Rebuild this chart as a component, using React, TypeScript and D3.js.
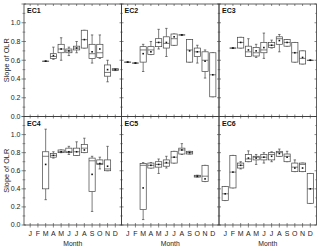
import React from 'react';
import * as d3 from 'd3';

const MONTHS = ['J', 'F', 'M', 'A', 'M', 'J', 'J', 'A', 'S', 'O', 'N', 'D'];
const PANELS = ['EC1', 'EC2', 'EC3', 'EC4', 'EC5', 'EC6'];
const Y_TICKS = [0, 0.2, 0.4, 0.6, 0.8, 1.0];
const Y_MINOR = [0.1, 0.3, 0.5, 0.7, 0.9, 1.1];

// [low whisker, q1, median, q3, high whisker, mean] per month (null = no data)
type S = [number, number, number, number, number, number] | null;
const EC1: S[] = [null, null,
  [0.59, 0.59, 0.59, 0.59, 0.59, 0.59],
  [0.61, 0.62, 0.64, 0.67, 0.74, 0.65],
  [0.60, 0.68, 0.72, 0.77, 0.84, 0.72],
  [0.65, 0.68, 0.70, 0.72, 0.74, 0.70],
  [0.68, 0.71, 0.73, 0.75, 0.80, 0.73],
  [0.73, 0.73, 0.82, 0.92, 0.92, 0.82],
  [0.57, 0.62, 0.67, 0.77, 0.87, 0.69],
  [0.62, 0.63, 0.68, 0.77, 0.87, 0.72],
  [0.37, 0.43, 0.47, 0.55, 0.60, 0.50],
  [0.49, 0.49, 0.50, 0.51, 0.51, 0.50]];
const EC2: S[] = [
  [0.58, 0.58, 0.58, 0.58, 0.58, 0.58],
  [0.57, 0.57, 0.57, 0.57, 0.57, 0.57],
  [0.48, 0.58, 0.71, 0.745, 0.77, 0.67],
  [0.66, 0.66, 0.71, 0.745, 0.80, 0.69],
  [0.72, 0.745, 0.79, 0.83, 0.93, 0.79],
  [0.64, 0.73, 0.78, 0.85, 0.94, 0.79],
  [0.76, 0.76, 0.83, 0.88, 0.88, 0.85],
  [0.87, 0.87, 0.87, 0.87, 0.87, 0.87],
  [0.58, 0.58, 0.71, 0.82, 0.82, 0.70],
  [0.57, 0.64, 0.69, 0.73, 0.76, 0.69],
  [0.41, 0.48, 0.60, 0.69, 0.71, 0.59],
  [0.21, 0.21, 0.445, 0.68, 0.68, 0.445]];
const EC3: S[] = [null,
  [0.73, 0.73, 0.73, 0.73, 0.73, 0.73],
  [0.73, 0.73, 0.79, 0.845, 0.845, 0.79],
  [0.64, 0.64, 0.69, 0.75, 0.83, 0.71],
  [0.63, 0.645, 0.68, 0.735, 0.77, 0.70],
  [0.62, 0.68, 0.71, 0.79, 0.89, 0.735],
  [0.73, 0.735, 0.76, 0.79, 0.815, 0.76],
  [0.69, 0.77, 0.83, 0.85, 0.875, 0.81],
  [0.75, 0.75, 0.79, 0.82, 0.82, 0.79],
  [0.58, 0.58, 0.68, 0.79, 0.79, 0.68],
  [0.56, 0.56, 0.62, 0.70, 0.70, 0.63],
  [0.60, 0.60, 0.60, 0.60, 0.60, 0.60]];
const EC4: S[] = [null, null,
  [0.28, 0.40, 0.76, 0.81, 1.06, 0.67],
  [0.74, 0.75, 0.77, 0.79, 0.81, 0.77],
  [0.80, 0.80, 0.81, 0.83, 0.83, 0.81],
  [0.78, 0.80, 0.81, 0.85, 0.87, 0.81],
  [0.77, 0.77, 0.81, 0.85, 0.92, 0.81],
  [0.80, 0.80, 0.85, 0.89, 0.96, 0.83],
  [0.15, 0.37, 0.71, 0.74, 0.76, 0.56],
  [0.62, 0.67, 0.68, 0.72, 0.75, 0.68],
  [0.60, 0.60, 0.62, 0.72, 0.87, 0.65],
  null];
const EC5: S[] = [null, null,
  [0.06, 0.17, 0.66, 0.68, 0.69, 0.41],
  [0.63, 0.63, 0.66, 0.685, 0.69, 0.66],
  [0.57, 0.64, 0.67, 0.70, 0.73, 0.67],
  [0.63, 0.65, 0.685, 0.72, 0.76, 0.69],
  [0.685, 0.685, 0.75, 0.815, 0.815, 0.75],
  [0.78, 0.785, 0.83, 0.85, 0.90, 0.83],
  [0.785, 0.785, 0.80, 0.815, 0.815, 0.80],
  [0.53, 0.53, 0.54, 0.55, 0.55, 0.54],
  [0.48, 0.48, 0.54, 0.66, 0.66, 0.51],
  null];
const EC6: S[] = [
  [0.27, 0.27, 0.345, 0.426, 0.426, 0.345],
  [0.41, 0.41, 0.585, 0.77, 0.77, 0.585],
  [0.62, 0.63, 0.66, 0.685, 0.70, 0.66],
  [0.70, 0.70, 0.73, 0.78, 0.82, 0.74],
  [0.67, 0.72, 0.75, 0.76, 0.78, 0.74],
  [0.685, 0.72, 0.75, 0.78, 0.80, 0.75],
  [0.70, 0.72, 0.78, 0.80, 0.81, 0.76],
  [0.76, 0.76, 0.80, 0.815, 0.84, 0.79],
  [0.70, 0.70, 0.76, 0.785, 0.815, 0.75],
  [0.59, 0.59, 0.64, 0.685, 0.72, 0.63],
  [0.59, 0.59, 0.67, 0.685, 0.685, 0.63],
  [0.24, 0.24, 0.40, 0.57, 0.57, 0.40]];
const DATA = [EC1, EC2, EC3, EC4, EC5, EC6];

const COL_X = [24, 121.5, 219];
const PANEL_W = 97.5;
const ROW_TOP = [4, 116.5];
const ROW_BOT = [116.5, 225];
const FONT = 'Liberation Sans, Arial, sans-serif';
const INK = '#3a3a3a';

function Panel({ idx }: { idx: number }) {
  const col = idx % 3;
  const row = Math.floor(idx / 3);
  const x0 = COL_X[col];
  const x1 = x0 + PANEL_W;
  const y0 = ROW_TOP[row];
  const y1 = ROW_BOT[row];
  const x = d3.scaleLinear().domain([0.2, 12.8]).range([x0, x1]);
  const y = d3.scaleLinear().domain([0, 1.2]).range([y1, y0]);
  const bw = (x(2) - x(1)) * 0.8;
  const cap = 2.4;
  const data = DATA[idx];
  const months = d3.range(1, 13);
  const ticksY = [...Y_TICKS, 1.2];
  return (
    <g>
      <rect x={x0} y={y0} width={PANEL_W} height={y1 - y0} fill="none" stroke={INK} strokeWidth={0.8} />
      {months.map((m) => (
        <g key={'mt' + m}>
          <line x1={x(m)} x2={x(m)} y1={y0} y2={y0 + 2} stroke={INK} strokeWidth={0.6} />
          <line x1={x(m)} x2={x(m)} y1={y1} y2={y1 - 2} stroke={INK} strokeWidth={0.6} />
          {row === 1 && <line x1={x(m)} x2={x(m)} y1={y1} y2={y1 + 2.5} stroke={INK} strokeWidth={0.6} />}
        </g>
      ))}
      {ticksY.map((t) => (
        <g key={'yt' + t}>
          <line x1={x0} x2={x0 + 2} y1={y(t)} y2={y(t)} stroke={INK} strokeWidth={0.6} />
          <line x1={x1} x2={x1 - 2} y1={y(t)} y2={y(t)} stroke={INK} strokeWidth={0.6} />
          {col === 0 && <line x1={x0} x2={x0 - 2.5} y1={y(t)} y2={y(t)} stroke={INK} strokeWidth={0.6} />}
        </g>
      ))}
      {Y_MINOR.map((t) => (
        <g key={'ym' + t}>
          <line x1={x0} x2={x0 + 1.3} y1={y(t)} y2={y(t)} stroke={INK} strokeWidth={0.5} />
          <line x1={x1} x2={x1 - 1.3} y1={y(t)} y2={y(t)} stroke={INK} strokeWidth={0.5} />
          {col === 0 && <line x1={x0} x2={x0 - 1.5} y1={y(t)} y2={y(t)} stroke={INK} strokeWidth={0.5} />}
        </g>
      ))}
      {col === 0 && Y_TICKS.map((t) => (
        <text key={'yl' + t} x={x0 - 3.5} y={y(t)} dy="0.35em" textAnchor="end" fontSize={7} fontFamily={FONT} fill="#222">
          {d3.format('.1f')(t)}
        </text>
      ))}
      {col === 0 && (
        <text transform={`translate(8.5,${(y0 + y1) / 2}) rotate(-90)`} textAnchor="middle" fontSize={7.3} fontFamily={FONT} fill="#222">
          Slope of OLR
        </text>
      )}
      {row === 1 && MONTHS.map((mLabel, i) => (
        <text key={'xl' + i} x={x(i + 1)} y={236} textAnchor="middle" fontSize={7} fontFamily={FONT} fill="#222">
          {mLabel}
        </text>
      ))}
      {row === 1 && (
        <text x={(x0 + x1) / 2} y={246} textAnchor="middle" fontSize={6.8} fontFamily={FONT} fill="#222">
          Month
        </text>
      )}
      <text x={x0 + 3} y={y0 + 9} fontSize={7} fontWeight="bold" fontFamily={FONT} fill="#111">
        {PANELS[idx]}
      </text>
      {data.map((s, i) => {
        if (!s) return null;
        const [lo, q1, med, q3, hi, mean] = s;
        const cx = x(i + 1);
        return (
          <g key={'b' + i} stroke="#444" strokeWidth={0.7} fill="none">
            <line x1={cx} x2={cx} y1={y(hi)} y2={y(q3)} />
            <line x1={cx} x2={cx} y1={y(q1)} y2={y(lo)} />
            <line x1={cx - cap / 2} x2={cx + cap / 2} y1={y(hi)} y2={y(hi)} />
            <line x1={cx - cap / 2} x2={cx + cap / 2} y1={y(lo)} y2={y(lo)} />
            <rect x={cx - bw / 2} y={y(q3)} width={bw} height={Math.max(0.01, y(q1) - y(q3))} fill="#fff" />
            <line x1={cx - bw / 2} x2={cx + bw / 2} y1={y(med)} y2={y(med)} />
            <rect x={cx - 0.8} y={y(mean) - 0.8} width={1.6} height={1.6} fill="#111" stroke="none" />
          </g>
        );
      })}
    </g>
  );
}

export default function App() {
  return (
    <svg width={320} height={251} style={{ position: 'absolute', left: 0, top: 0, background: '#fff' }}>
      <rect width={320} height={251} fill="#fff" />
      {PANELS.map((_, i) => (
        <Panel key={i} idx={i} />
      ))}
    </svg>
  );
}
